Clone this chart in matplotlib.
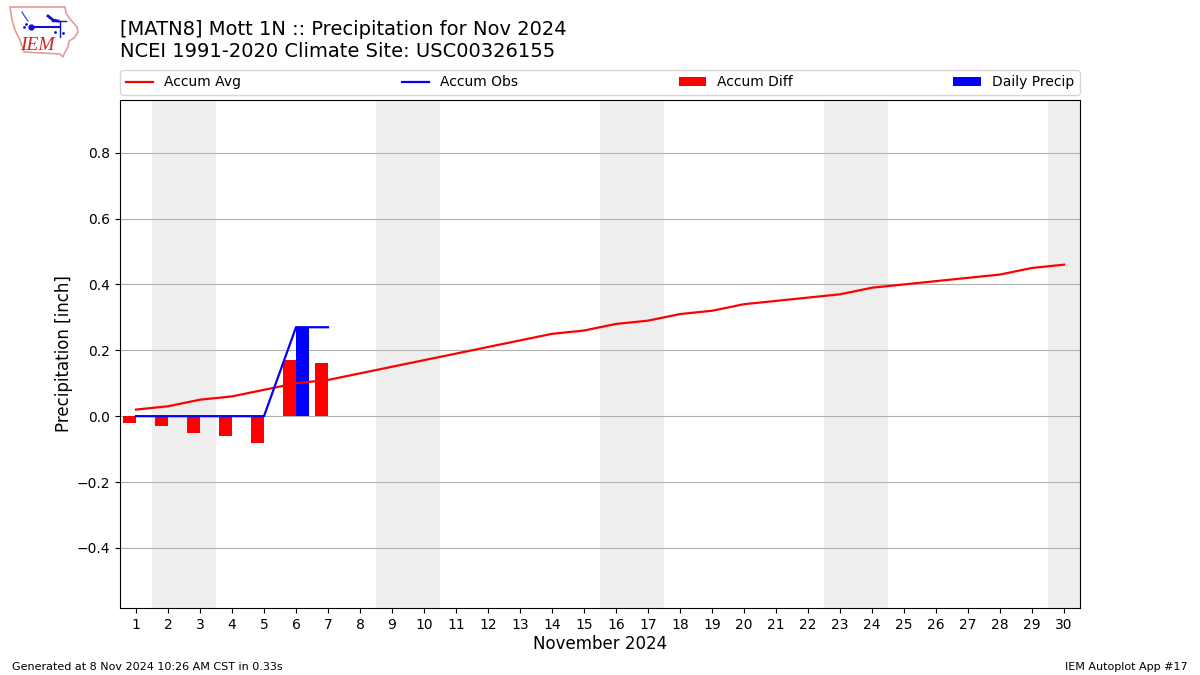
import matplotlib
matplotlib.use("Agg")
import matplotlib.pyplot as plt
from matplotlib.patches import Polygon

days = list(range(1, 31))
accum_avg = [0.02, 0.03, 0.05, 0.06, 0.08, 0.10, 0.11, 0.13, 0.15, 0.17,
             0.19, 0.21, 0.23, 0.25, 0.26, 0.28, 0.29, 0.31, 0.32, 0.34,
             0.35, 0.36, 0.37, 0.39, 0.40, 0.41, 0.42, 0.43, 0.45, 0.46]
obs_days = [1, 2, 3, 4, 5, 6, 7]
accum_obs = [0, 0, 0, 0, 0, 0.27, 0.27]
accum_diff = [-0.02, -0.03, -0.05, -0.06, -0.08, 0.17, 0.16]
daily_precip = [0, 0, 0, 0, 0, 0.27, 0]
weekends = [(1.5, 3.5), (8.5, 10.5), (15.5, 17.5), (22.5, 24.5), (29.5, 30.5)]
y_ticks = [-0.4, -0.2, 0.0, 0.2, 0.4, 0.6, 0.8]

W, H = 1200, 675
fig = plt.figure(figsize=(12, 6.75), dpi=100)
ax = fig.add_axes([120 / W, 1 - 608 / H, 960 / W, 508 / H])

for a, b in weekends:
    ax.axvspan(a, b, color="#eeeeee", lw=0, zorder=0)

ax.set_axisbelow(True)
ax.grid(True, axis="y", color="#b0b0b0", lw=0.8)

ax.plot(days, accum_avg, color="red", lw=1.6, label="Accum Avg", zorder=3)
ax.plot(obs_days, accum_obs, color="blue", lw=1.6, label="Accum Obs", zorder=4)
ax.bar(obs_days, accum_diff, width=-0.4, align="edge", color="red", label="Accum Diff", zorder=2)
ax.bar(obs_days, daily_precip, width=0.4, align="edge", color="blue", label="Daily Precip", zorder=2)

ax.set_xlim(0.5, 30.5)
ax.set_ylim(-0.5825, 0.9600)
ax.set_xticks(days)
ax.set_yticks(y_ticks)
ax.tick_params(labelsize=10)
ax.set_xlabel("November 2024", fontsize=12, labelpad=2.5)
ax.set_ylabel("Precipitation [inch]", fontsize=12, labelpad=3)
ax.legend(loc="lower left", bbox_to_anchor=(0, 1.01, 1, 0.102), mode="expand",
          ncol=4, borderaxespad=0, fontsize=10)

fig.text(120 / W, 1 - 29.5 / H, "[MATN8] Mott 1N :: Precipitation for Nov 2024",
         fontsize=14, ha="left", va="center")
fig.text(120 / W, 1 - 51.5 / H, "NCEI 1991-2020 Climate Site: USC00326155",
         fontsize=14, ha="left", va="center")
fig.text(12 / W, 1 - 666.5 / H, "Generated at 8 Nov 2024 10:26 AM CST in 0.33s",
         fontsize=8, ha="left", va="center")
fig.text(1188 / W, 1 - 666.5 / H, "IEM Autoplot App #17",
         fontsize=8, ha="right", va="center")

# IEM logo, drawn in figure pixel space
logo = fig.add_axes([0, 1 - 60 / H, 85 / W, 60 / H])
logo.set_xlim(0, 85)
logo.set_ylim(60, 0)
logo.axis("off")
logo.add_patch(Polygon(
    [(10, 7), (65, 7), (66, 13), (70, 19), (77, 27), (78, 32), (74, 38), (69, 41),
     (68, 47), (65, 52), (63, 57), (60, 54), (24, 52), (20, 40), (15, 30), (12, 20), (11, 13)],
    closed=True, fill=False, edgecolor="#e39a9a", lw=1.2))
logo.plot([31, 60], [27, 27], color="#1010d0", lw=1.5)
logo.plot([31], [26.5], marker="o", ms=3.5, color="#1010d0")
logo.plot([48, 53, 58], [16, 20, 21], color="#1010d0", lw=2)
logo.plot([60, 60], [21, 37], color="#1010d0", lw=1)
logo.plot([52, 66], [21, 21], color="#1010d0", lw=1)
logo.plot([22, 25, 28], [12, 17, 21], color="#3030d0", lw=0.8)
logo.plot([24, 26, 55, 63], [27, 24, 32, 33], color="#1010d0", ls="none", marker=".", ms=2)
logo.text(37.5, 45.5, "IEM", color="#cc2222", fontsize=14, family="Liberation Serif",
          style="italic", ha="center", va="center")

fig.savefig("out.png", dpi=100)
